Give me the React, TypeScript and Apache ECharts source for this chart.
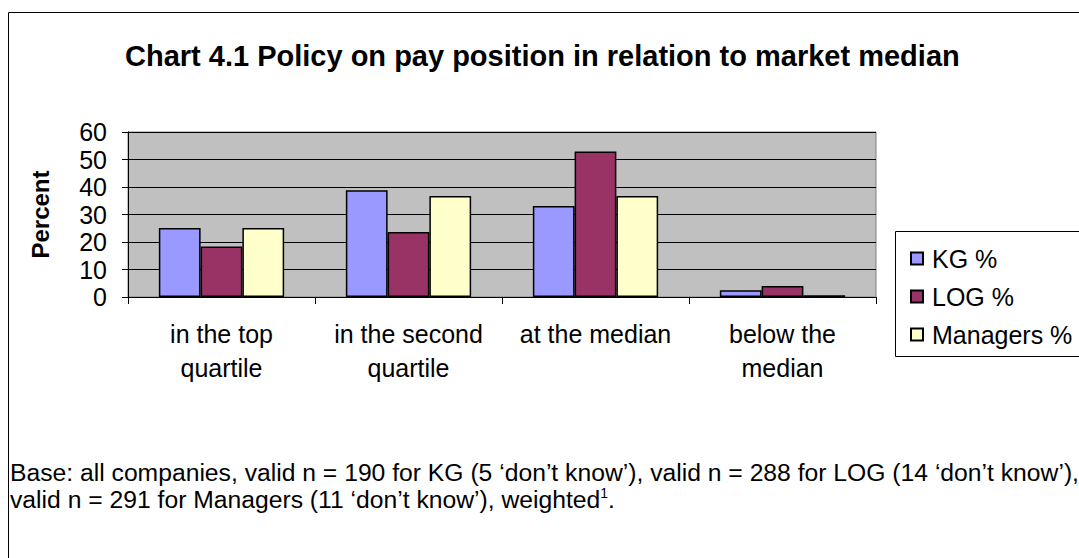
import React, { useEffect, useRef } from "react";
import * as echarts from "echarts";

const categories = ["in the top\nquartile", "in the second\nquartile", "at the median", "below the\nmedian"];
const kgValues = [25.1, 38.8, 33.1, 2.5];
const logValues = [18.4, 23.6, 52.9, 4.0];
const managersValues = [25.1, 36.7, 36.7, 0.6];
const seriesNames = ["KG %", "LOG %", "Managers %"];
const seriesColors = ["#9999ff", "#993366", "#ffffcc"];
const yTicks = { min: 0, max: 60, interval: 10 };

const FONT = "'Liberation Sans', Arial, sans-serif";

export default function App() {
  const ref = useRef<HTMLDivElement>(null);
  useEffect(() => {
    if (!ref.current) return;
    const chart = echarts.init(ref.current, null, { renderer: "svg" });
    const values = [kgValues, logValues, managersValues];
    chart.setOption({
      animation: false,
      backgroundColor: "#ffffff",
      textStyle: { fontFamily: FONT, color: "#000" },
      title: {
        text: "Chart 4.1 Policy on pay position in relation to market median",
        left: 120,
        top: 36,
        textStyle: { fontFamily: FONT, fontSize: 29, fontWeight: "bold", color: "#000" },
      },
      grid: {
        left: 128,
        right: 203,
        top: 132,
        bottom: 261,
        show: true,
        backgroundColor: "#c0c0c0",
        borderColor: "#808080",
        borderWidth: 1,
      },
      legend: {
        orient: "vertical",
        left: 905,
        top: 241,
        itemWidth: 12,
        itemHeight: 12,
        itemGap: 13,
        icon: "rect",
        textStyle: { fontFamily: FONT, fontSize: 25, color: "#000", padding: [0, 0, 0, 4] },
        data: seriesNames,
      },
      xAxis: {
        type: "category",
        data: categories,
        axisLine: { lineStyle: { color: "#000", width: 1 } },
        axisTick: { show: true, length: 7, lineStyle: { color: "#000" } },
        axisLabel: { fontFamily: FONT, fontSize: 25, lineHeight: 34, margin: 20, color: "#000", interval: 0 },
      },
      yAxis: {
        type: "value",
        min: yTicks.min,
        max: yTicks.max,
        interval: yTicks.interval,
        name: "Percent",
        nameLocation: "middle",
        nameGap: 76,
        nameTextStyle: { fontFamily: FONT, fontSize: 24, fontWeight: "bold", color: "#000" },
        axisLine: { show: true, lineStyle: { color: "#000", width: 1 } },
        axisTick: { show: true, length: 6, lineStyle: { color: "#000" } },
        axisLabel: { fontFamily: FONT, fontSize: 25, margin: 21, color: "#000" },
        splitLine: { show: true, lineStyle: { color: "#000", width: 1 } },
      },
      series: seriesNames.map((name, i) => ({
        name,
        type: "bar",
        data: values[i],
        barGap: "0%",
        barCategoryGap: "33%",
        itemStyle: { color: seriesColors[i], borderColor: "#000", borderWidth: 1.5 },
      })),
      graphic: [
        {
          type: "rect",
          shape: { x: 8.5, y: 12.5, width: 1200, height: 700 },
          style: { fill: "none", stroke: "#000", lineWidth: 1 },
          silent: true,
        },
        {
          type: "rect",
          shape: { x: 895.5, y: 231.5, width: 300, height: 125 },
          style: { fill: "#fff", stroke: "#000", lineWidth: 1 },
          silent: true,
          z: -1,
        },
        {
          type: "text",
          x: 10,
          y: 459,
          style: {
            text: "Base: all companies, valid n = 190 for KG (5 ‘don’t know’), valid n = 288 for LOG (14 ‘don’t know’),\nvalid n = 291 for Managers (11 ‘don’t know’), weighted{sup|1}.",
            font: `24.7px ${FONT}`,
            fill: "#000",
            lineHeight: 27,
            rich: {
              sup: { fontSize: 14, fontFamily: FONT, verticalAlign: "top", fill: "#000", color: "#000", lineHeight: 27 },
            },
          },
        },
      ],
    });
    return () => chart.dispose();
  }, []);
  return <div ref={ref} style={{ position: "absolute", left: 0, top: 0, width: 1079, height: 558 }} />;
}
